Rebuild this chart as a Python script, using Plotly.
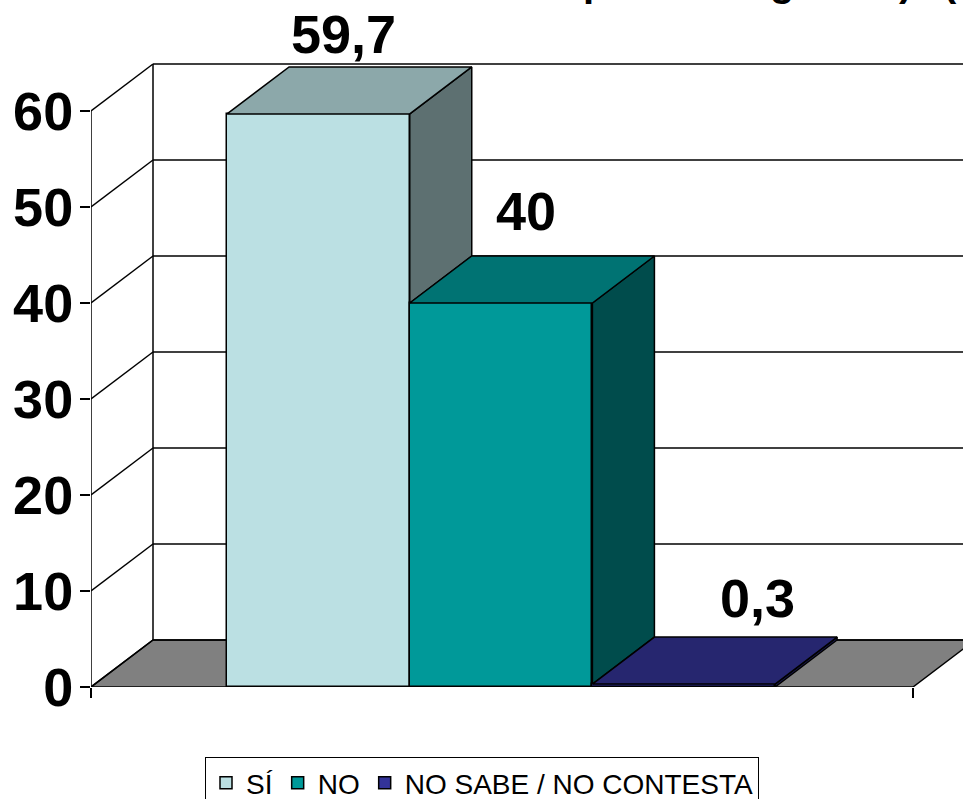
import plotly.graph_objects as go

# Data
categories = ["SÍ", "NO", "NO SABE / NO CONTESTA"]
values = [59.7, 40, 0.3]
value_labels = ["59,7", "40", "0,3"]
tick_values = [0, 10, 20, 30, 40, 50, 60]

front_colors = ["#BBE0E3", "#009999", "#333399"]
top_colors = ["#8CA8AA", "#007373", "#26266F"]
side_colors = ["#5D7071", "#004C4C", "#1A1A4D"]
label_offsets = [(-6, -33), (-6, -45), (43, -39)]   # pixels from the back top centre of a column

title_fragments = ["p", "g", ")", "("]
title_fragment_px = [595, 782, 905, 950]

# Geometry of the pseudo 3-D box, in axis units
W, H = 963, 799
LEFT, BOTTOM_Y = 91, 687
PX_PER_X = 822 / 4.5
PX_PER_Y = 9.6
GAP = 0.745
X_END = 4.5
DX = 62 / PX_PER_X
DY = 47 / PX_PER_Y
X_MAX = (W - LEFT) / PX_PER_X
Y_MAX = BOTTOM_Y / PX_PER_Y
Y_TOP = max(tick_values)
LINE = dict(color="#000000", width=1.5)

fig = go.Figure()

# Column fronts
for i, (name, v) in enumerate(zip(categories, values)):
    fig.add_trace(go.Bar(
        x=[GAP + i + 0.5], y=[v], width=[1], name=name,
        marker=dict(color=front_colors[i], line=LINE),
        hoverinfo="name+y",
    ))

# Column tops and sides: the side stops where the next column hides it
for i, v in enumerate(values):
    x0, x1 = GAP + i, GAP + i + 1
    next_v = values[i + 1] if i + 1 < len(values) else 0
    fig.add_trace(go.Scatter(
        x=[x1, x1 + DX, x1 + DX, x1, x1],
        y=[next_v, next_v + DY, v + DY, v, next_v],
        mode="lines", fill="toself", fillcolor=side_colors[i], line=LINE,
        showlegend=False, hoverinfo="skip", cliponaxis=False,
    ))
    fig.add_trace(go.Scatter(
        x=[x0, x1, x1 + DX, x0 + DX, x0],
        y=[v, v, v + DY, v + DY, v],
        mode="lines", fill="toself", fillcolor=top_colors[i], line=LINE,
        showlegend=False, hoverinfo="skip", cliponaxis=False,
    ))

# Box: floor, gridlines and edges, all under the columns
shapes = [dict(type="path", layer="below", xref="x", yref="y",
               path=f"M0,0 L{X_END},0 L{X_END + DX},{DY} L{DX},{DY} Z",
               fillcolor="#808080", line=LINE)]
for t in tick_values:
    shapes.append(dict(type="line", layer="below", xref="x", yref="y",
                       x0=0, y0=t, x1=DX, y1=t + DY, line=LINE))
    shapes.append(dict(type="line", layer="below", xref="x", yref="y",
                       x0=DX, y0=t + DY, x1=X_END + DX, y1=t + DY, line=LINE))
shapes.append(dict(type="line", layer="below", xref="x", yref="y",
                   x0=0, y0=0, x1=0, y1=Y_TOP, line=LINE))
shapes.append(dict(type="line", layer="below", xref="x", yref="y",
                   x0=DX, y0=DY, x1=DX, y1=Y_TOP + DY, line=LINE))

annotations = []
for i, (v, txt) in enumerate(zip(values, value_labels)):
    annotations.append(dict(
        x=GAP + i + 0.5 + DX / 2, y=v + DY, xref="x", yref="y", text=f"<b>{txt}</b>",
        showarrow=False, xanchor="center", yanchor="middle",
        xshift=label_offsets[i][0], yshift=-label_offsets[i][1],
        font=dict(family="Liberation Sans", size=54, color="#000000"),
    ))

for t, px in zip(title_fragments, title_fragment_px):
    annotations.append(dict(
        x=(px - LEFT) / (W - LEFT), y=1, xref="paper", yref="paper", text=f"<b>{t}</b>",
        showarrow=False, xanchor="center", yanchor="bottom", yshift=-6,
        font=dict(family="Liberation Sans", size=40, color="#000000"),
    ))

fig.update_layout(
    width=W, height=H, autosize=False,
    margin=dict(l=LEFT, r=0, t=0, b=H - BOTTOM_Y, pad=0),
    paper_bgcolor="white", plot_bgcolor="white",
    barmode="overlay", bargap=0,
    shapes=shapes, annotations=annotations,
    showlegend=True,
    legend=dict(
        orientation="h", xref="container", yref="container",
        x=205 / W, y=(H - 757) / H,
        xanchor="left", yanchor="top",
        bordercolor="#000000", borderwidth=1, bgcolor="white",
        font=dict(family="Liberation Sans", size=28, color="#000000"),
        traceorder="normal",
    ),
    xaxis=dict(range=[0, X_MAX], showgrid=False, zeroline=False, showline=False,
               tickmode="array", tickvals=[0, X_END], ticktext=["", ""],
               ticks="outside", ticklen=10, tickwidth=1.5, tickcolor="#000000", fixedrange=True),
    yaxis=dict(range=[0, Y_MAX], showgrid=False, zeroline=False, showline=False,
               tickmode="array", tickvals=tick_values, ticks="outside", ticklen=10,
               tickwidth=1.5, tickcolor="#000000", ticklabelstandoff=-4,
               tickfont=dict(family="Liberation Sans", size=54, color="#000000", weight="bold"),
               fixedrange=True),
)

fig.write_html("out.html", post_script="document.body.style.margin='0';",
               config=dict(displayModeBar=False))
